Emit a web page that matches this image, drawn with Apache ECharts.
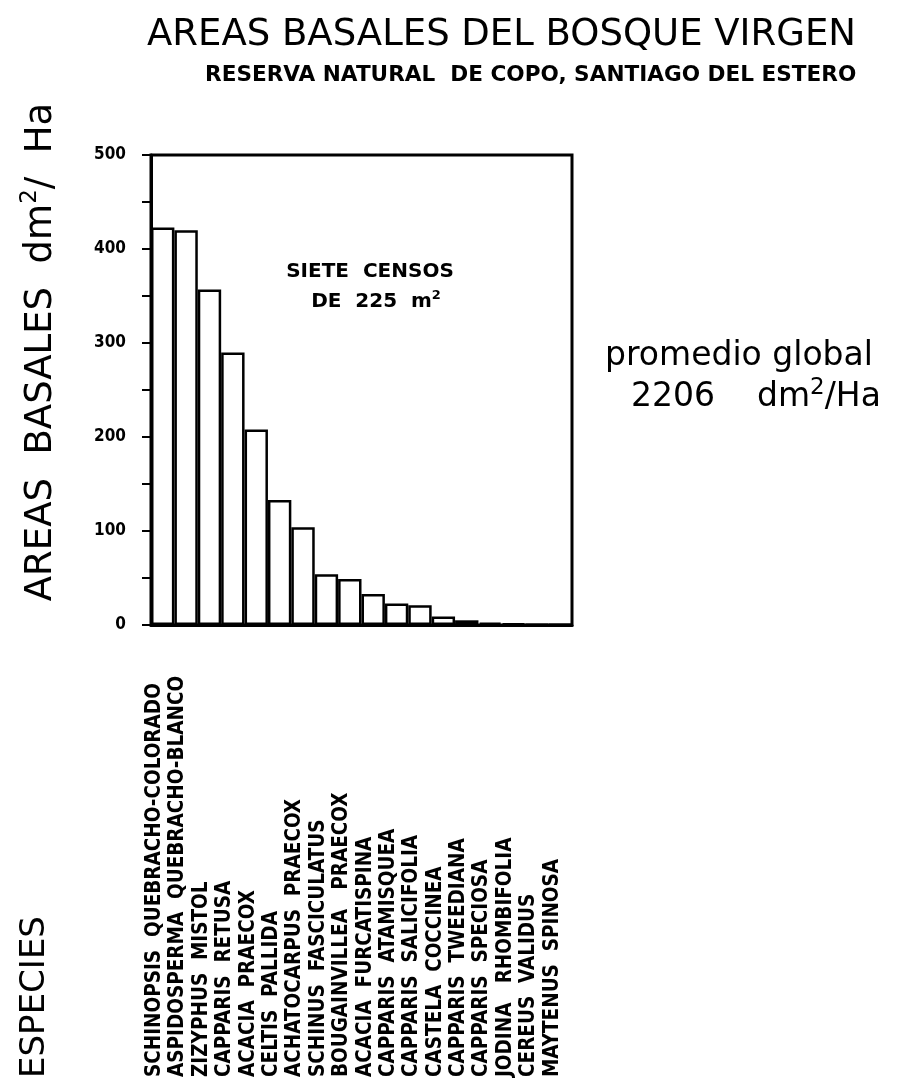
<!DOCTYPE html>
<html>
<head>
<meta charset="utf-8">
<script src="https://cdn.jsdelivr.net/npm/echarts@6/dist/echarts.min.js"></script>
<style>
  html, body { margin: 0; padding: 0; background: #fff; }
  #chart { width: 898px; height: 1087px; }
</style>
</head>
<body>
<div id="chart"></div>
<script>
// Species, ordered by basal area (dm²/Ha)
const species = [
  'SCHINOPSIS  QUEBRACHO-COLORADO',
  'ASPIDOSPERMA  QUEBRACHO-BLANCO',
  'ZIZYPHUS  MISTOL',
  'CAPPARIS  RETUSA',
  'ACACIA  PRAECOX',
  'CELTIS  PALLIDA',
  'ACHATOCARPUS  PRAECOX',
  'SCHINUS  FASCICULATUS',
  'BOUGAINVILLEA   PRAECOX',
  'ACACIA  FURCATISPINA',
  'CAPPARIS  ATAMISQUEA',
  'CAPPARIS  SALICIFOLIA',
  'CASTELA  COCCINEA',
  'CAPPARIS  TWEEDIANA',
  'CAPPARIS  SPECIOSA',
  'JODINA   RHOMBIFOLIA',
  'CEREUS  VALIDUS',
  'MAYTENUS  SPINOSA'
];

// Basal area per species, dm²/Ha
const basalArea = [423, 420, 357, 290, 208, 133, 104, 54, 49, 33, 23, 21, 9, 5, 2.5, 1.5, 0.6, 0.3];

// Value axis range and ticks
const yMin = 0;
const yMax = 500;
const yTickStep = 50;
const yLabelStep = 100;

const INK = '#000';
const LETTER = '"DejaVu Sans Condensed", "DejaVu Sans", sans-serif';
const PLAIN = '"DejaVu Sans", sans-serif';

const chart = echarts.init(document.getElementById('chart'), null, { renderer: 'canvas' });

chart.setOption({
  backgroundColor: '#fff',
  animation: false,
  grid: [
    { left: 151, top: 155, width: 421, height: 470, show: true, borderColor: INK, borderWidth: 3,
      backgroundColor: 'transparent', containLabel: false, outerBoundsMode: 'none' },
    // strip that carries the species names, anchored near the bottom edge
    { left: 143, top: 1076, width: 421, height: 1, containLabel: false, outerBoundsMode: 'none' }
  ],
  xAxis: [
    {
      type: 'category', gridIndex: 0, data: species, boundaryGap: true,
      axisLine: { show: true, lineStyle: { color: INK, width: 3 } },
      axisTick: { show: false }, axisLabel: { show: false }, splitLine: { show: false }
    },
    {
      type: 'category', gridIndex: 1, data: species, boundaryGap: true,
      axisLine: { show: false }, axisTick: { show: false }, splitLine: { show: false },
      axisLabel: {
        show: true, interval: 0, rotate: 90, margin: 0,
        align: 'left', verticalAlign: 'middle',
        color: INK, fontFamily: LETTER, fontWeight: 'bold', fontSize: 20.5
      }
    }
  ],
  yAxis: [
    {
      type: 'value', gridIndex: 0, min: yMin, max: yMax, interval: yTickStep,
      axisLine: { show: true, lineStyle: { color: INK, width: 3 } },
      axisTick: { show: true, inside: false, length: 9, lineStyle: { color: INK, width: 2 } },
      splitLine: { show: false },
      axisLabel: {
        margin: 25, color: INK, fontFamily: LETTER, fontWeight: 'bold', fontSize: 17,
        formatter: v => (v % yLabelStep === 0 ? String(v) : '')
      }
    },
    { type: 'value', gridIndex: 1, show: false }
  ],
  series: [
    {
      type: 'bar', xAxisIndex: 0, yAxisIndex: 0, data: basalArea,
      barCategoryGap: '0%', barGap: '0%',
      itemStyle: { color: '#fff', borderColor: INK, borderWidth: 2.5 },
      emphasis: { disabled: true }
    }
  ],
  graphic: [
    { type: 'text', left: 147, top: 17,
      style: { text: 'AREAS BASALES DEL BOSQUE VIRGEN', fill: INK, font: 'normal 37px ' + PLAIN } },
    { type: 'text', left: 205, top: 64,
      style: { text: 'RESERVA NATURAL  DE COPO, SANTIAGO DEL ESTERO', fill: INK, font: 'bold 21.6px ' + PLAIN } },
    { type: 'text', x: 41, y: 352, rotation: Math.PI / 2,
      style: {
        text: '{a|AREAS  BASALES  dm}{s|2}{a|/  Ha}', align: 'center', verticalAlign: 'middle',
        rich: {
          a: { fontFamily: PLAIN, fontSize: 37, fill: INK, color: INK, lineHeight: 44 },
          s: { fontFamily: PLAIN, fontSize: 23, fill: INK, color: INK, verticalAlign: 'top', lineHeight: 44 }
        }
      } },
    { type: 'text', x: 35, y: 997, rotation: Math.PI / 2,
      style: { text: 'ESPECIES', fill: INK, font: 'normal 34px ' + PLAIN, align: 'center', verticalAlign: 'middle' } },
    { type: 'text', x: 370, y: 272,
      style: { text: 'SIETE  CENSOS', fill: INK, font: 'bold 20px ' + PLAIN, align: 'center', verticalAlign: 'middle' } },
    { type: 'text', x: 376, y: 302,
      style: {
        text: '{a|DE  225  m}{s|2}', align: 'center', verticalAlign: 'middle',
        rich: {
          a: { fontFamily: PLAIN, fontWeight: 'bold', fontSize: 20, color: INK, lineHeight: 26 },
          s: { fontFamily: PLAIN, fontWeight: 'bold', fontSize: 13, color: INK, verticalAlign: 'top', lineHeight: 26 }
        }
      } },
    { type: 'text', x: 739, y: 356,
      style: { text: 'promedio global', fill: INK, font: 'normal 33px ' + PLAIN, align: 'center', verticalAlign: 'middle' } },
    { type: 'text', x: 756, y: 397,
      style: {
        text: '{a|2206    dm}{s|2}{a|/Ha}', align: 'center', verticalAlign: 'middle',
        rich: {
          a: { fontFamily: PLAIN, fontSize: 33, color: INK, lineHeight: 40 },
          s: { fontFamily: PLAIN, fontSize: 23, color: INK, verticalAlign: 'top', lineHeight: 40 }
        }
      } }
  ]
});
</script>
</body>
</html>
